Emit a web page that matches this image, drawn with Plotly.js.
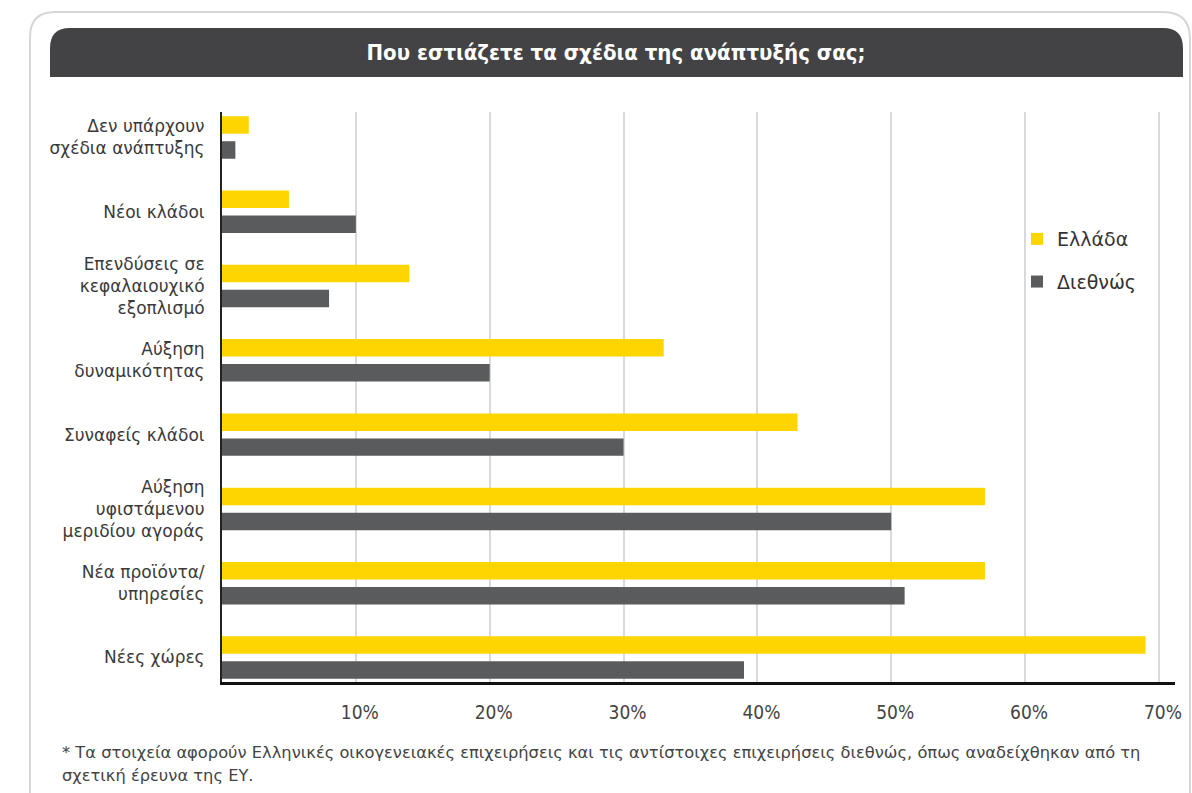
<!DOCTYPE html>
<html>
<head>
<meta charset="utf-8">
<script src="https://cdn.plot.ly/plotly-3.0.1.min.js"></script>
<style>html,body{margin:0;padding:0;background:#fff;}#chart{width:1192px;height:793px;}</style>
</head>
<body>
<div id="chart"></div>
<script>
const categories = [
  "Δεν υπάρχουν<br>σχέδια ανάπτυξης",
  "Νέοι κλάδοι",
  "Επενδύσεις σε<br>κεφαλαιουχικό<br>εξοπλισμό",
  "Αύξηση<br>δυναμικότητας",
  "Συναφείς κλάδοι",
  "Αύξηση<br>υφιστάμενου<br>μεριδίου αγοράς",
  "Νέα προϊόντα/<br>υπηρεσίες",
  "Νέες χώρες"
];
const greece = [2, 5, 14, 33, 43, 57, 57, 69];
const international = [1, 10, 8, 20, 30, 50, 51, 39];
const seriesNames = ["Ελλάδα", "Διεθνώς"];
const tickVals = [10, 20, 30, 40, 50, 60, 70];
const tickText = ["10%", "20%", "30%", "40%", "50%", "60%", "70%"];
const titleText = "Που εστιάζετε τα σχέδια της ανάπτυξής σας;";
const footLines = [
  "* Τα στοιχεία αφορούν Ελληνικές οικογενειακές επιχειρήσεις και τις αντίστοιχες επιχειρήσεις διεθνώς, όπως αναδείχθηκαν από τη",
  "σχετική έρευνα της ΕΥ."
];

const W = 1192, H = 793;
const L = 222, R = 1175, T = 112, B = 682;
const px = x => (x - L) / (R - L);
const py = y => (B - y) / (B - T);
const P = (x, y) => px(x).toFixed(5) + "," + py(y).toFixed(5);

const cardPath = "M" + P(30, 800) + " L" + P(30, 37) + " Q" + P(30, 12) + " " + P(55, 12) +
  " L" + P(1163, 12) + " Q" + P(1190, 12) + " " + P(1190, 39) + " L" + P(1190, 800);
const barPath = "M" + P(50, 77) + " L" + P(50, 48) + " Q" + P(50, 28) + " " + P(70, 28) +
  " L" + P(1163, 28) + " Q" + P(1183, 28) + " " + P(1183, 48) + " L" + P(1183, 77) + " Z";

const baseFont = "DejaVu Sans, Verdana, sans-serif";
const condFont = "DejaVu Sans Condensed, DejaVu Sans, sans-serif";

const traces = [
  {type: "bar", orientation: "h", name: seriesNames[0], y: categories, x: greece,
   marker: {color: "#FFD500"}, legendgroup: "a", hoverinfo: "x+name"},
  {type: "bar", orientation: "h", name: seriesNames[1], y: categories, x: international,
   marker: {color: "#5A5B5D"}, legendgroup: "b", hoverinfo: "x+name"}
];

const layout = {
  width: W, height: H,
  margin: {l: L, r: W - R, t: T, b: H - B, pad: 0},
  paper_bgcolor: "#ffffff", plot_bgcolor: "rgba(0,0,0,0)",
  barmode: "group", bargap: 0.327, bargroupgap: 0.3,
  title: {text: "<b>" + titleText + "</b>", font: {family: condFont, size: 22, color: "#ffffff"},
          xref: "container", yref: "container", x: 616 / W, xanchor: "center",
          y: 1 - 52 / H, yanchor: "middle"},
  xaxis: {range: [0, 71.2], tickvals: tickVals, ticktext: tickText,
          showgrid: true, gridcolor: "#d9d9d9", gridwidth: 2,
          zeroline: false, showline: true, linecolor: "#111111", linewidth: 2.5,
          ticks: "", ticklabelstandoff: 12, ticklabelshift: 4,
          tickfont: {family: condFont, size: 19, color: "#444444"}, fixedrange: true},
  yaxis: {type: "category", categoryorder: "array", categoryarray: categories,
          range: [7.33, -0.343], showgrid: false, zeroline: false,
          showline: true, linecolor: "#222222", linewidth: 2,
          ticks: "", ticklabelstandoff: 12,
          tickfont: {family: baseFont, size: 17, color: "#3a3a3a"}, fixedrange: true},
  legend: {x: px(1017), xanchor: "left", y: py(220), yanchor: "top",
           bgcolor: "rgba(0,0,0,0)", borderwidth: 0, traceorder: "grouped",
           tracegroupgap: 15, font: {family: baseFont, size: 19, color: "#333333"}},
  shapes: [
    {type: "path", xref: "paper", yref: "paper", path: cardPath, layer: "below",
     line: {color: "#d6d6d6", width: 2}, fillcolor: "rgba(0,0,0,0)"},
    {type: "path", xref: "paper", yref: "paper", path: barPath, layer: "above",
     line: {width: 0}, fillcolor: "#434244"}
  ],
  annotations: [
    {xref: "paper", yref: "paper", x: px(60), y: py(752), xanchor: "left", yanchor: "middle",
     text: footLines[0], showarrow: false, align: "left",
     font: {family: baseFont, size: 16.3, color: "#444444"}},
    {xref: "paper", yref: "paper", x: px(60), y: py(775), xanchor: "left", yanchor: "middle",
     text: footLines[1], showarrow: false, align: "left",
     font: {family: baseFont, size: 16.3, color: "#444444"}}
  ]
};

Plotly.newPlot("chart", traces, layout, {displayModeBar: false, staticPlot: true});
</script>
</body>
</html>
